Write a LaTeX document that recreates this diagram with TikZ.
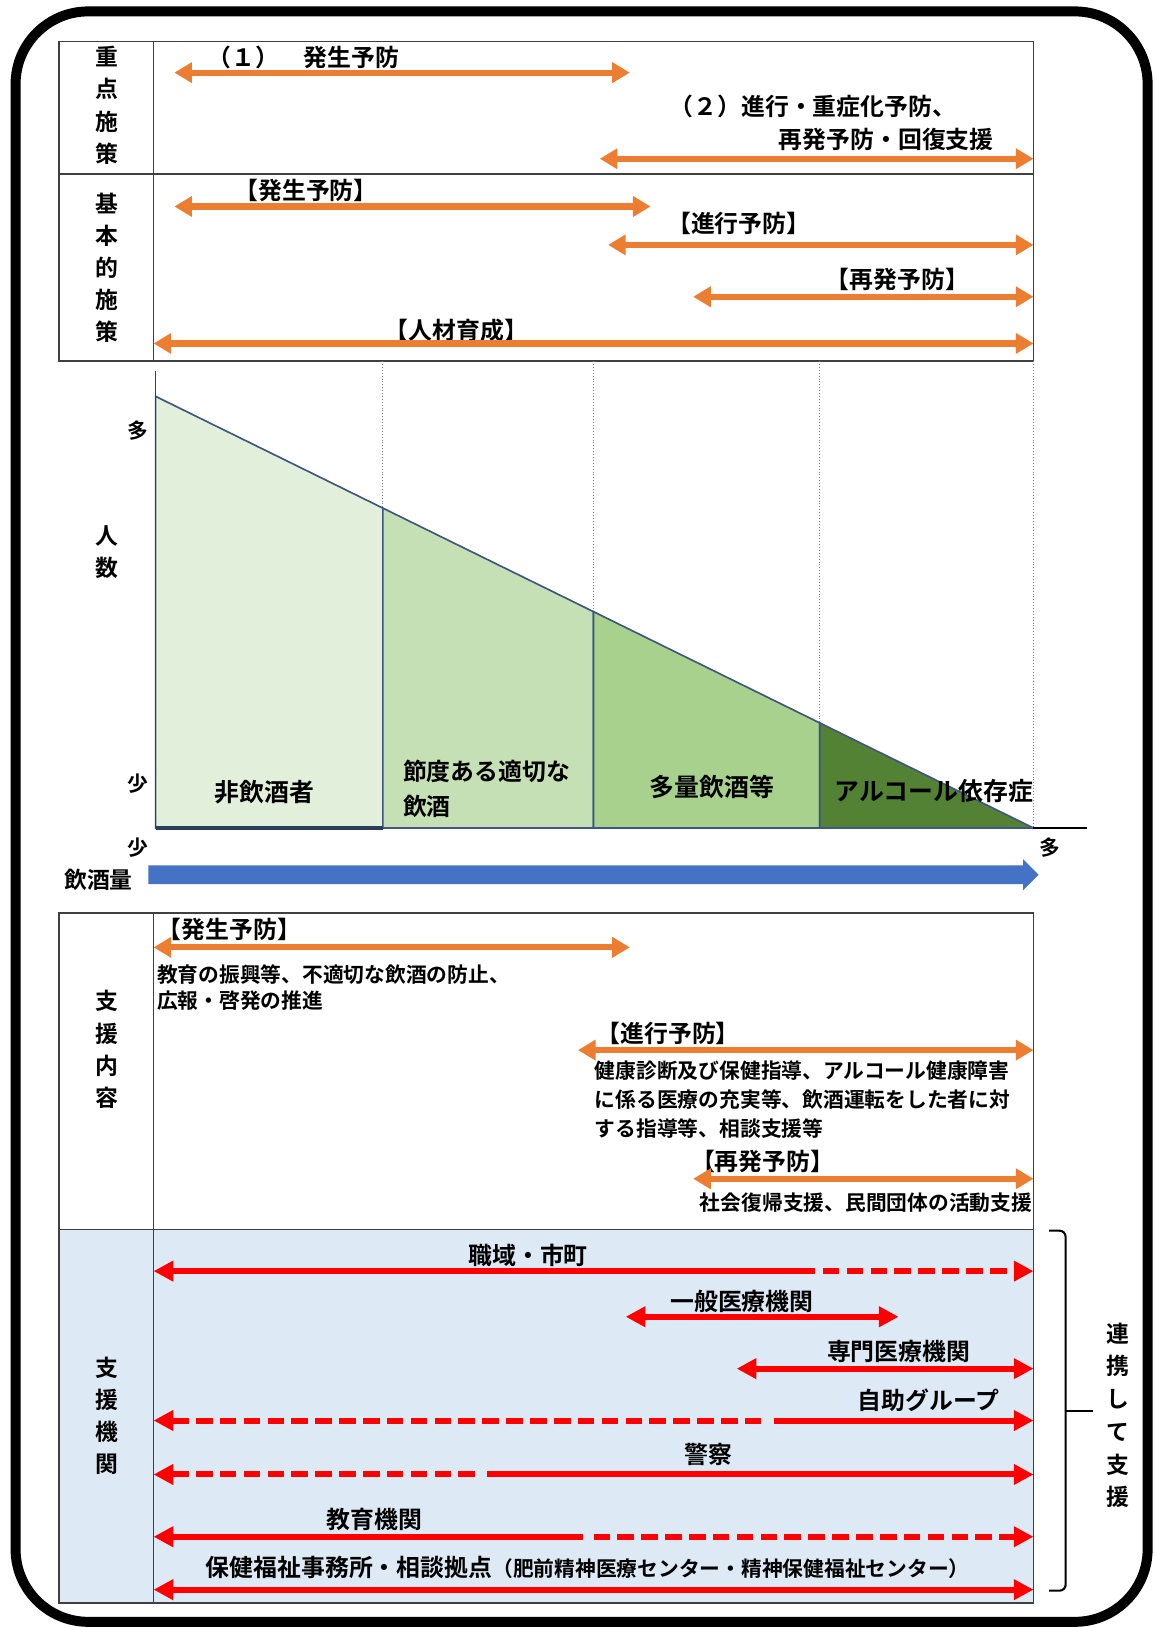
\documentclass[tikz,border=0pt]{standalone}
\usepackage{fontspec}
\setmainfont{Noto Sans CJK JP}[BoldFont={* Bold}]
\usetikzlibrary{arrows.meta}
\definecolor{orng}{HTML}{ED7D31}
\definecolor{redc}{HTML}{FF0000}
\definecolor{gA}{HTML}{E2EFDA}
\definecolor{gB}{HTML}{C5E0B4}
\definecolor{gC}{HTML}{A9D18E}
\definecolor{gD}{HTML}{548235}
\definecolor{edgec}{HTML}{3F5582}
\definecolor{bluec}{HTML}{4472C4}
\definecolor{lblue}{HTML}{DDEAF6}
\definecolor{gridc}{HTML}{404040}
\tikzset{
  ot/.tip={Triangle[length=8.5pt,width=9.5pt]},
  rt/.tip={Triangle[length=9.5pt,width=9.5pt]},
  txt/.style={inner sep=0pt, text=black, font=\bfseries\fontsize{#1}{#1}\selectfont},
  txt/.default=11.5,
  vlab/.style={inner sep=0pt, align=center, font=\bfseries\fontsize{11}{15.5}\selectfont},
  oarr/.style={draw=orng, line width=3pt, ot-ot},
  rline/.style={draw=redc, line width=2.9pt},
  rdash/.style={draw=redc, line width=2.9pt, dash pattern=on 8pt off 3.5pt},
  tline/.style={draw=gridc, line width=0.8pt},
  region/.style={draw=edgec, line width=0.8pt},
  vdot/.style={draw=gray, line width=0.4pt, densely dotted}
}
\begin{document}
\begin{tikzpicture}[x=0.5pt,y=-0.5pt]
\useasboundingbox (0,0) rectangle (1114,1568);
% outer frame
\draw[line width=4.8pt, rounded corners=35pt] (15,11) rectangle (1106,1563);

% ---------- top table ----------
\draw[tline] (57,40) rectangle (996,348);
\draw[tline] (148,40) -- (148,348);
\draw[tline] (57,168) -- (996,168);
\node[vlab] (lj) at (103,101.5) {重\\点\\施\\策};
\node[vlab] (lk) at (103,258) {基\\本\\的\\施\\策};

\node[txt, anchor=west] (tA) at (200,55) {（１）　発生予防};
\node[txt, anchor=west] (tB) at (645,103) {（２）進行・重症化予防、};
\node[txt, anchor=east] (tC) at (958,134) {再発予防・回復支援};
\node[txt] (tD) at (295,184) {【発生予防】};
\node[txt] (tE) at (712,215) {【進行予防】};
\node[txt] (tF) at (865,269) {【再発予防】};
\node[txt] (tG) at (440,318) {【人材育成】};

\coordinate (a1s) at (168,70);  \coordinate (a1e) at (607,70);
\coordinate (a2s) at (578,153); \coordinate (a2e) at (996,153);
\coordinate (a3s) at (168,199); \coordinate (a3e) at (627,199);
\coordinate (a4s) at (586,236); \coordinate (a4e) at (996,236);
\coordinate (a5s) at (668,286); \coordinate (a5e) at (996,286);
\coordinate (a6s) at (148,331); \coordinate (a6e) at (996,331);
\draw[oarr] (a1s) -- (a1e);
\draw[oarr] (a2s) -- (a2e);
\draw[oarr] (a3s) -- (a3e);
\draw[oarr] (a4s) -- (a4e);
\draw[oarr] (a5s) -- (a5e);
\draw[oarr] (a6s) -- (a6e);

% ---------- chart ----------
\foreach \xx in {369,572,790,996} \draw[vdot] (\xx,348) -- (\xx,798);
\draw[region, fill=gA] (150,382) -- (369,489.7) -- (369,798) -- (150,798) -- cycle;
\draw[region, fill=gB] (369,489.7) -- (572,589.5) -- (572,798) -- (369,798) -- cycle;
\draw[region, fill=gC] (572,589.5) -- (790,696.7) -- (790,798) -- (572,798) -- cycle;
\draw[region, fill=gD] (790,696.7) -- (996,798) -- (790,798) -- cycle;
\draw[draw=gridc, line width=0.8pt] (150,358) -- (150,798);
\draw[draw=edgec!70!black, line width=1.5pt] (150,798) -- (369,798);
\draw[draw=black, line width=0.7pt] (996,798) -- (1048,798);

\node[txt=12] (c1) at (255,763) {非飲酒者};
\node[inner sep=0pt, align=left, anchor=west, font=\bfseries\fontsize{11.5}{17}\selectfont] (c2) at (388,760) {節度ある適切な\\飲酒};
\node[txt=12] (c3) at (686,758) {多量飲酒等};
\node[txt=12] (c4) at (900,762) {アルコール依存症};

\node[txt=10] (ym) at (133,415) {多};
\node[vlab] (yl) at (103,532) {人\\数};
\node[txt=10] (ys) at (133,755) {少};
\node[txt=10] (xs) at (133,817) {少};
\node[txt=10] (xm) at (1012,817) {多};
\node[txt=11] (xl) at (95,848) {飲酒量};
\fill[bluec] (143,834) -- (986,834) -- (986,828) -- (1001,843) -- (986,858) -- (986,852) -- (143,852) -- cycle;

% ---------- bottom table ----------
\fill[lblue] (57,1185) rectangle (996,1545);
\draw[tline] (57,880) rectangle (996,1545);
\draw[tline] (148,880) -- (148,1545);
\draw[tline] (57,1185) -- (996,1185);
\node[vlab] (lc) at (103,1011.5) {支\\援\\内\\容};
\node[vlab] (lo) at (103,1364.5) {支\\援\\機\\関};

\node[txt] (s1) at (221,896) {【発生予防】};
\node[txt=10, anchor=west] (s1a) at (151,939) {教育の振興等、不適切な飲酒の防止、};
\node[txt=10, anchor=west] (s1b) at (151,964) {広報・啓発の推進};
\node[txt] (s2) at (644,996) {【進行予防】};
\node[txt=10, anchor=west] (s2a) at (573,1032) {健康診断及び保健指導、アルコール健康障害};
\node[txt=10, anchor=west] (s2b) at (573,1060) {に係る医療の充実等、飲酒運転をした者に対};
\node[txt=10, anchor=west] (s2c) at (573,1088) {する指導等、相談支援等};
\node[txt] (s3) at (735,1119) {【再発予防】};
\node[txt=10, anchor=east] (s3a) at (995,1159) {社会復帰支援、民間団体の活動支援};

\coordinate (b1s) at (148,913);  \coordinate (b1e) at (607,913);
\coordinate (b2s) at (557,1012); \coordinate (b2e) at (996,1012);
\coordinate (b3s) at (668,1136); \coordinate (b3e) at (996,1136);
\draw[oarr] (b1s) -- (b1e);
\draw[oarr] (b2s) -- (b2e);
\draw[oarr] (b3s) -- (b3e);

% support organisations
\node[txt] (o1) at (509,1210) {職域・市町};
\node[txt] (o2) at (715,1254) {一般医療機関};
\node[txt] (o3) at (866,1302) {専門医療機関};
\node[txt] (o4) at (895,1349) {自助グループ};
\node[txt] (o5) at (683,1402) {警察};
\node[txt] (o6) at (361,1464) {教育機関};
\node[txt, anchor=west] (o7) at (198,1511) {保健福祉事務所・相談拠点{\fontsize{10}{10}\selectfont（肥前精神医療センター・精神保健福祉センター）}};

\coordinate (r1s) at (148,1225); \coordinate (r1m) at (785,1225); \coordinate (r1n) at (793,1225); \coordinate (r1e) at (996,1225);
\draw[rline, rt-] (r1s) -- (r1m);
\draw[rdash, -rt] (r1n) -- (r1e);
\coordinate (r2s) at (603,1269); \coordinate (r2e) at (866,1269);
\draw[rline, rt-rt] (r2s) -- (r2e);
\coordinate (r3s) at (710,1319); \coordinate (r3e) at (996,1319);
\draw[rline, rt-rt] (r3s) -- (r3e);
\coordinate (r4s) at (148,1369); \coordinate (r4m) at (735,1369); \coordinate (r4n) at (746,1369); \coordinate (r4e) at (996,1369);
\draw[rdash, rt-] (r4s) -- (r4m);
\draw[rline, -rt] (r4n) -- (r4e);
\coordinate (r5s) at (148,1421); \coordinate (r5m) at (459,1421); \coordinate (r5n) at (469,1421); \coordinate (r5e) at (996,1421);
\draw[rdash, rt-] (r5s) -- (r5m);
\draw[rline, -rt] (r5n) -- (r5e);
\coordinate (r6s) at (148,1481); \coordinate (r6m) at (562,1481); \coordinate (r6n) at (572,1481); \coordinate (r6e) at (996,1481);
\draw[rline, rt-] (r6s) -- (r6m);
\draw[rdash, -rt] (r6n) -- (r6e);
\coordinate (r7s) at (148,1532); \coordinate (r7e) at (996,1532);
\draw[rline, rt-rt] (r7s) -- (r7e);

% bracket
\coordinate (bt) at (1011,1186); \coordinate (bb) at (1011,1533);
\coordinate (bm) at (1027,1360); \coordinate (bx) at (1053,1360);
\draw[line width=1pt, rounded corners=3pt] (bt) -- (1027,1186) -- (1027,1533) -- (bb);
\draw[line width=1pt] (bm) -- (bx);
\node[inner sep=0pt, align=center, font=\bfseries\fontsize{11}{15.8}\selectfont] (rl) at (1077,1364) {連\\携\\し\\て\\支\\援};
\end{tikzpicture}
\end{document}
